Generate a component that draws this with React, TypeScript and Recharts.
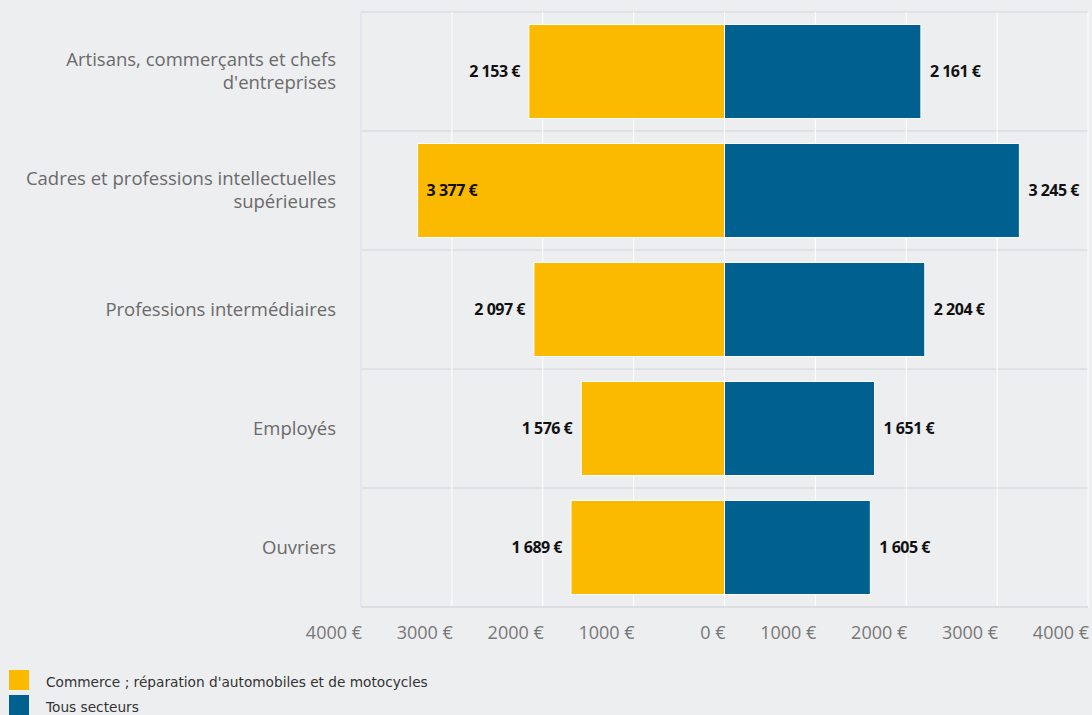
import { BarChart, Bar, XAxis, YAxis, CartesianGrid, LabelList, Legend } from "recharts";

// Salaire net mensuel moyen par catégorie socioprofessionnelle
const categories = [
  "Artisans, commerçants et chefs\nd'entreprises",
  "Cadres et professions intellectuelles\nsupérieures",
  "Professions intermédiaires",
  "Employés",
  "Ouvriers",
];
const commerce = [2153, 3377, 2097, 1576, 1689];
const tousSecteurs = [2161, 3245, 2204, 1651, 1605];
const xTicks = [-4000, -3000, -2000, -1000, 0, 1000, 2000, 3000, 4000];

const COMMERCE_COLOR = "#fbb900";
const TOUS_COLOR = "#006090";
const BG = "#edeef0";

// commerce goes on the left side, so it is stored negative
const data = categories.map((name, i) => ({
  name,
  commerce: -commerce[i],
  tous: tousSecteurs[i],
}));

const euro = (v: number) =>
  `${Math.abs(v).toString().replace(/\B(?=(\d{3})+(?!\d))/g, " ")} €`;

function BarLabel(props: any) {
  const { x, y, width, height, value } = props;
  const left = Math.min(x, x + width);
  const right = Math.max(x, x + width);
  let tx = right + 9;
  let anchor: "start" | "end" = "start";
  if (value < 0) {
    // not enough room on the left of the widest bar: put it inside
    if (Math.abs(value) > 3000) {
      tx = left + 9;
    } else {
      tx = left - 9;
      anchor = "end";
    }
  }
  return (
    <text
      x={tx}
      y={y + height / 2}
      dy="0.35em"
      textAnchor={anchor}
      fill="#111"
      fontFamily="Open Sans"
      fontWeight={700}
      fontSize={16}
      letterSpacing={-0.5}
    >
      {euro(value)}
    </text>
  );
}

function CategoryTick({ x, y, payload }: any) {
  const lines = String(payload.value).split("\n");
  const lh = 23;
  const start = y - ((lines.length - 1) * lh) / 2;
  return (
    <text x={x} y={start} textAnchor="end" fill="#6a6a6a" fontFamily="Open Sans" fontSize={18.5}>
      {lines.map((l, i) => (
        <tspan key={i} x={x} dy={i === 0 ? "0.35em" : lh}>
          {l}
        </tspan>
      ))}
    </text>
  );
}

function ValueTick({ x, y, payload }: any) {
  return (
    <text x={x + 1} y={y + 26} dy="0.35em" textAnchor="end" fill="#777" fontFamily="Open Sans" fontSize={18}>
      {`${Math.abs(payload.value)} €`}
    </text>
  );
}

function LegendBox({ payload }: any) {
  return (
    <div style={{ paddingLeft: 9, paddingTop: 0 }}>
      {(payload || []).map((p: any) => (
        <div key={p.value} style={{ display: "flex", alignItems: "center", height: 25 }}>
          <span style={{ width: 20, height: 20, background: p.color, display: "inline-block" }} />
          <span style={{ marginLeft: 17, paddingTop: 5, fontFamily: "DejaVu Sans", fontSize: 13.7, color: "#333" }}>
            {p.value}
          </span>
        </div>
      ))}
    </div>
  );
}

export default function App() {
  return (
    <div style={{ position: "absolute", left: 0, top: 0, width: 1092, height: 715, background: BG, overflow: "hidden" }}>
      <BarChart
        width={1092}
        height={715}
        data={data}
        layout="vertical"
        stackOffset="sign"
        barCategoryGap="10.5%"
        margin={{ top: 12, right: 4, left: 0, bottom: 0 }}
      >
        <CartesianGrid
          horizontal
          vertical={false}
          stroke="#dfe1e4"
          strokeWidth={2}
          horizontalCoordinatesGenerator={({ offset }: any) =>
            Array.from({ length: categories.length + 1 }, (_, i) => offset.top + (i * offset.height) / categories.length)
          }
        />
        <CartesianGrid horizontal={false} vertical stroke="#ffffff" strokeWidth={1} />
        <XAxis
          type="number"
          domain={[-4000, 4000]}
          ticks={xTicks}
          interval={0}
          height={60}
          tickSize={0}
          tickMargin={0}
          tickLine={false}
          axisLine={{ stroke: "#dcdee1", strokeWidth: 2 }}
          tick={<ValueTick />}
        />
        <YAxis
          type="category"
          dataKey="name"
          width={361}
          tickSize={0}
          tickMargin={25}
          tickLine={false}
          axisLine={{ stroke: "#ccd6eb" }}
          tick={<CategoryTick />}
          interval={0}
        />
        <Legend verticalAlign="bottom" align="left" height={48} content={<LegendBox />} />
        <Bar
          dataKey="commerce"
          name="Commerce ; réparation d'automobiles et de motocycles"
          stackId="a"
          fill={COMMERCE_COLOR}
          stroke="#ffffff"
          strokeWidth={1}
          isAnimationActive={false}
        >
          <LabelList dataKey="commerce" content={<BarLabel />} />
        </Bar>
        <Bar
          dataKey="tous"
          name="Tous secteurs"
          stackId="a"
          fill={TOUS_COLOR}
          stroke="#ffffff"
          strokeWidth={1}
          isAnimationActive={false}
        >
          <LabelList dataKey="tous" content={<BarLabel />} />
        </Bar>
      </BarChart>
    </div>
  );
}
